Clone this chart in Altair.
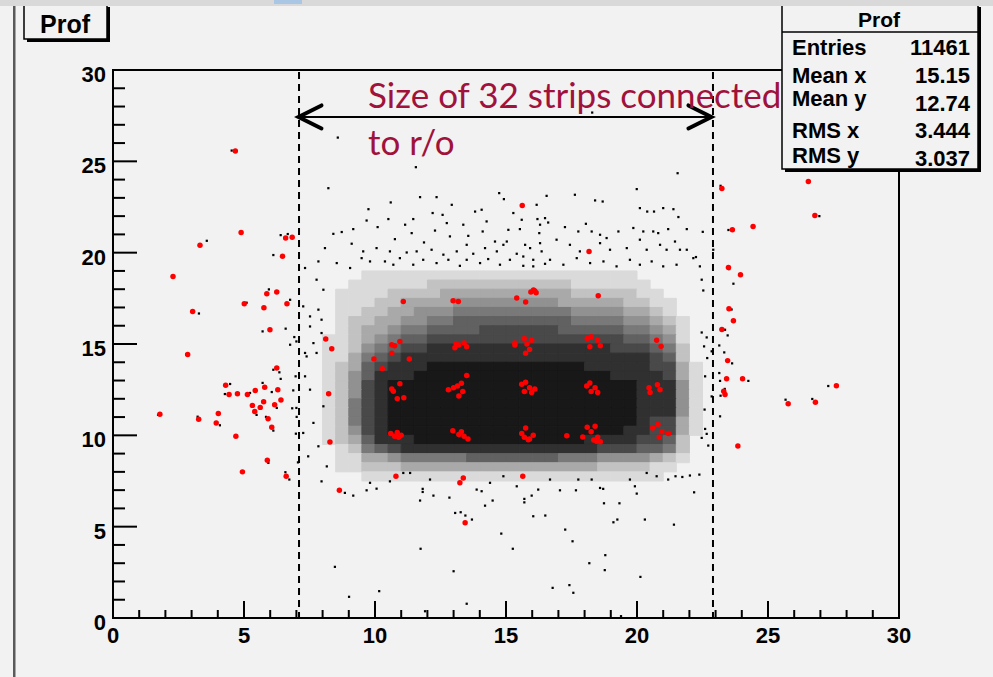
import altair as alt
import pandas as pd

# ---------------------------------------------------------------- layout
W, H = 786, 548            # frame (plot area) size in px
LEFT, TOP = 113, 70        # frame origin on the canvas
BG = "#f2f2f2"
FONT = "Liberation Sans"


def ax(px):
    """canvas x (px) -> plot-area x"""
    return px - LEFT


def ay(py):
    """canvas y (px) -> plot-area y"""
    return py - TOP


# ---------------------------------------------------------------- data
# Dense core of the profile: share of each 0.5 x 0.5 cell covered by entries,
# in tenths ('0' = empty).  Columns start at x = 7.5, 8.0, ... 22.5;
# rows run from y = 18.5 (top) down to y = 7.5.
core_x0 = [7.5 + 0.5 * i for i in range(31)]
core_y0 = [18.5 - 0.5 * j for j in range(23)]
core_rows = [
    "00001 11111 11111 11111 11111 00000 0",  # 18.5
    "00011 11112 22222 22222 11111 10000 0",  # 18.0
    "00111 12222 33333 33333 22222 11000 0",  # 17.5
    "00111 22333 34444 44443 33332 21100 0",  # 17.0
    "00112 23344 45555 55555 44443 32100 0",  # 16.5
    "00122 33445 56666 66666 55554 43210 0",  # 16.0
    "00123 34556 66677 77776 66665 54310 0",  # 15.5
    "01123 45667 77777 77777 77776 65410 0",  # 15.0
    "01124 56778 88888 88888 88877 76520 0",  # 14.5
    "01135 67888 88888 88888 88888 87620 0",  # 14.0
    "01236 78889 99999 99999 98888 87731 0",  # 13.5
    "01246 88899 99999 99999 99988 88731 0",  # 13.0
    "01247 89999 99999 99999 99999 88841 0",  # 12.5
    "01247 89999 99999 99999 99999 88841 0",  # 12.0
    "01257 89999 99999 99999 99999 88841 0",  # 11.5
    "01257 89999 99999 99999 99999 88841 0",  # 11.0
    "01257 89999 99999 99999 99999 87731 0",  # 10.5
    "01247 89999 99999 99999 99998 87731 0",  # 10.0
    "01236 88899 99999 99999 98888 77620 0",  # 9.5
    "00125 67888 88888 88888 88777 66520 0",  # 9.0
    "00113 34555 55666 66665 55444 43210 0",  # 8.5
    "00112 22333 33333 33333 33222 21100 0",  # 8.0
    "00001 11111 11111 11111 11111 11000 0",  # 7.5
]

# Sparse entries around the core
upper_x = [8.22, 9.75, 10.6, 11.72, 12.35, 12.93, 14.74, 14.92, 16.17, 16.55,
           9.68, 10.51, 11.15, 11.46, 12.2, 12.58, 12.74, 13.37, 13.82, 14.07, 14.26, 15.28, 15.6, 16.2,
           8.41, 8.73, 9.17, 10.1, 10.76, 11.4, 11.87, 12.29, 12.86, 13.56, 14.11, 14.58, 15.09, 15.53, 16.27,
           8.09, 9.11, 9.55, 10.06, 10.57, 11.21, 11.59, 12.16, 12.61, 13.12, 13.5, 13.75, 14.2, 14.65, 14.9,
           15.41, 15.92, 16.36,
           7.33, 7.84, 8.54, 9.05, 9.49, 9.81, 10.38, 10.7, 10.95, 11.46, 11.84, 12.35, 12.8, 13.24, 13.5,
           14.01, 14.32, 14.77, 15.15, 15.66, 16.04, 16.49,
           21.55, 19.99, 17.63, 18.4, 18.69, 20.11, 20.39, 20.65, 21.0, 21.39, 21.58, 16.49,
           16.3, 16.61, 17.25, 17.76, 18.05, 18.27, 18.59, 18.84, 19.29, 19.86, 20.24, 20.62, 20.81, 21.19, 21.9,
           15.03, 15.73, 16.3, 16.93, 17.44, 17.82, 18.59, 18.97, 19.61, 20.11, 20.37, 20.88, 21.13, 21.45,
           21.64, 21.9, 22.25,
           15.66, 16.04, 16.68, 17.19, 17.7, 18.21, 18.72, 19.22, 19.73, 20.11, 20.56, 21.0, 21.51, 22.15, 22.4,
           8.58, 11.56, 18.29]
upper_y = [23.53, 22.38, 22.75, 23.04, 23.04, 22.62, 23.26, 22.93, 22.62, 23.11,
           21.76, 21.84, 21.53, 21.84, 22.17, 22.07, 21.62, 21.53, 22.25, 22.35, 21.71, 22.17, 21.8, 21.84,
           21.03, 21.13, 21.29, 21.4, 20.74, 21.07, 20.56, 21.21, 20.89, 20.92, 21.16, 20.61, 21.25, 21.29, 21.07,
           20.25, 20.49, 20.07, 20.25, 20.07, 20.01, 20.07, 20.16, 19.89, 20.07, 20.43, 19.94, 20.25, 20.07, 20.43,
           19.94, 20.25, 20.07,
           19.16, 19.52, 19.43, 19.16, 19.7, 19.52, 19.52, 19.34, 19.7, 19.34, 19.61, 19.43, 19.61, 19.28, 19.61,
           19.43, 19.65, 19.34, 19.61, 19.28, 19.61, 19.39,
           24.35, 23.48, 23.17, 22.86, 22.8, 22.44, 22.25, 22.25, 22.44, 22.38, 21.95, 21.89,
           21.53, 21.65, 21.4, 21.16, 21.58, 21.16, 20.98, 20.8, 21.16, 21.35, 21.16, 21.16, 21.07, 21.29, 21.29,
           20.61, 20.43, 20.52, 20.71, 20.43, 20.07, 20.52, 20.16, 20.25, 20.71, 20.16, 20.43, 20.16, 20.61,
           20.16, 20.16, 19.76,
           19.79, 19.25, 19.61, 19.34, 19.7, 19.43, 19.52, 19.25, 19.61, 19.34, 19.52, 19.25, 19.34, 19.7, 19.25,
           26.3, 24.68, 27.67]

lower_x = [8.47, 9.01, 10.16, 11.74, 11.91, 13.0, 13.5, 14.82, 15.26, 16.04, 16.5, 17.26, 17.54, 16.78,
           17.42, 17.57, 18.18, 18.79, 18.77, 19.39, 20.13, 19.1, 19.25, 20.3, 21.41, 18.74, 19.33, 13.06,
           13.27, 13.45, 13.7, 11.72, 11.82, 11.82, 12.23, 12.84, 14.2, 14.49, 15.7, 15.7, 15.98, 18.71,
           19.99, 22.18, 21.47, 21.73, 22.02, 22.38, 9.17, 8.85, 9.68, 10.06, 9.81, 10.57, 11.08, 11.34,
           12.1, 13.88, 14.07, 14.39, 14.9, 15.41, 16.23, 16.68, 17.06, 17.67, 17.76, 18.27, 18.59, 19.73,
           19.92, 20.37, 20.75, 21.19]
lower_y = [2.8, 1.16, 1.47, 3.79, 0.37, 2.56, 0.78, 4.62, 3.79, 5.57, 5.61, 4.84, 4.2, 1.65,
           1.8, 1.38, 3.0, 3.44, 2.62, 0.1, 2.25, 5.24, 5.39, 5.39, 5.11, 6.28, 6.28, 5.75,
           5.79, 5.61, 5.39, 6.43, 7.07, 6.9, 6.7, 6.59, 6.15, 6.43, 6.52, 6.33, 6.7, 7.07,
           6.81, 6.88, 7.76, 7.72, 7.8, 7.85, 6.7, 6.85, 6.99, 7.08, 7.4, 7.48, 7.94, 7.94,
           7.58, 7.03, 6.94, 7.4, 7.76, 7.21, 7.03, 7.58, 6.99, 6.99, 7.58, 7.58, 7.12, 7.58,
           7.21, 7.94, 7.76, 7.58]

left_x = [4.53, 3.58, 3.28, 6.4, 6.67, 6.12, 5.95, 5.1, 6.76, 5.71, 6.59, 6.92, 6.76, 2.79, 6.12, 6.35,
          6.4, 4.47, 4.27, 5.23, 5.71, 6.06, 6.25, 5.48, 5.84, 1.72, 3.23, 4.08, 6.12, 5.93, 6.58, 6.73,
          6.97, 6.88, 6.84, 7.01, 6.98, 7.06,
          7.52, 7.96, 7.0, 7.39, 7.77, 7.33, 7.52, 8.03, 7.0, 7.65, 7.26, 7.84, 7.45, 8.16, 7.96,
          7.77, 8.03, 7.26, 7.84, 7.52, 7.96, 7.65, 7.33]
left_y = [25.59, 20.65, 16.67, 20.96, 21.02, 19.87, 17.99, 17.26, 17.42, 15.69, 15.84, 15.38, 14.96, 14.43,
          13.59, 13.45, 13.09, 12.81, 12.26, 12.32, 12.87, 12.37, 11.5, 11.12, 11.01, 11.12, 11.02, 10.55,
          10.26, 8.49, 7.98, 7.58, 13.23, 12.46, 11.48, 11.01, 10.09, 8.52,
          16.51, 16.33, 15.14, 14.32, 14.51, 13.23, 12.5, 11.59, 11.5, 10.68, 10.13, 9.4, 8.85, 8.3, 7.48,
          18.52, 17.97, 17.06, 16.88, 15.96, 15.6, 15.05, 14.51]

right_x = [23.19, 26.96, 23.49, 22.51, 23.52, 23.68, 22.47, 22.53, 23.61, 23.36, 23.46, 23.14, 23.33,
           23.63, 23.14, 23.17, 24.25, 27.3, 23.35, 23.19, 25.67, 26.69, 23.17, 22.58, 22.66, 22.72,
           22.68, 22.6, 22.56, 22.66, 22.47, 22.91, 22.85, 22.85, 22.6, 22.47]
right_y = [23.66, 22.0, 21.24, 21.14, 19.1, 18.3, 18.52, 17.93, 16.89, 15.78, 15.47, 14.92, 14.54,
           13.94, 13.41, 12.98, 12.98, 12.7, 12.54, 12.17, 11.95, 11.99, 11.04, 11.41, 10.08, 9.44,
           14.23, 13.23, 14.87, 15.36, 15.63, 20.16, 14.6, 12.13, 10.35, 9.86]

# Highlighted (red) entries
red_x = [4.67, 4.89, 6.59, 6.84, 3.32, 6.47, 2.29, 5.87, 6.25, 5.01, 5.76, 6.64, 3.04, 5.99, 2.85, 6.25,
         4.30, 5.79, 6.29, 4.43, 4.75, 5.13, 5.43, 6.41, 5.75, 5.32, 5.62, 6.17, 5.41, 1.79, 3.27, 4.02,
         3.94, 5.92, 6.06, 4.69, 5.89, 4.94, 6.61,
         26.54, 23.24, 26.79, 23.64, 24.43, 23.49, 23.95, 23.51, 23.68, 23.24, 23.46, 23.42, 24.03, 27.61,
         23.31, 23.36, 25.77, 26.81, 23.85,
         11.08, 8.12, 8.35, 10.64, 10.75, 10.95, 10.64, 9.96, 11.31, 10.28,
         10.95, 10.64, 10.7, 10.85, 11.1, 8.23, 10.6, 10.75, 10.9, 11.0, 10.85, 8.28, 10.8, 8.64,
         13.1, 13.2, 13.4, 13.5, 13.05, 13.5, 12.8, 13.0, 13.15, 13.3, 13.2, 13.35,
         12.97, 13.2, 13.4, 13.55, 13.3, 13.37, 13.24, 13.44, 12.98, 13.18,
         15.34, 15.34, 15.7, 15.8, 15.9, 15.98, 15.75, 18.1, 18.25, 18.5, 18.6, 18.2, 20.75, 20.92,
         15.6, 15.75, 15.9, 15.7, 15.98, 16.1, 18.08, 18.2, 18.4, 18.5, 18.25,
         20.46, 20.5, 20.78, 20.88,
         15.6, 15.75, 15.9, 16.04, 15.7, 17.32, 17.93, 18.1, 18.25, 18.4, 18.5, 18.6, 18.35,
         20.6, 20.8, 20.95, 21.2, 20.85, 15.64, 18.46, 15.85, 15.62, 18.17,
         15.95, 16.05, 16.15, 16.1, 15.41, 15.75, 18.52]
red_y = [25.57, 21.1, 20.8, 20.85, 20.4, 19.8, 18.7, 17.75, 17.85, 17.2, 16.99, 17.2, 16.78, 15.78, 14.43,
         13.69, 12.74, 12.63, 12.5, 12.23, 12.28, 12.23, 12.46, 11.94, 11.84, 11.64, 11.53, 11.68, 11.3,
         11.15, 10.88, 11.2, 10.68, 10.91, 10.44, 9.95, 8.63, 8.0, 7.76,
         23.9, 23.51, 22.03, 21.25, 21.43, 19.19, 18.79, 16.93, 16.27, 15.8, 14.09, 13.1, 13.1, 12.72,
         12.41, 12.23, 11.73, 11.81, 9.42,
         17.33, 15.27, 14.74, 14.96, 14.9, 15.14, 14.5, 14.18, 14.18, 13.65,
         12.83, 12.54, 12.41, 12.01, 12.06, 12.28, 10.1, 9.95, 9.9, 10.0, 10.15, 9.64, 7.76, 6.99,
         15.0, 14.95, 15.05, 14.85, 14.8, 13.27, 12.5, 12.6, 12.7, 12.85, 12.15, 12.4,
         10.25, 10.05, 9.95, 9.8, 10.2, 7.67, 7.4, 5.21, 17.37, 17.33,
         15.05, 14.95, 15.3, 15.0, 14.7, 15.2, 14.5, 15.3, 15.4, 15.2, 14.9, 14.85, 15.2, 14.87,
         12.8, 12.9, 12.6, 12.4, 12.35, 12.54, 12.7, 12.87, 12.6, 12.35, 12.4,
         12.6, 12.35, 12.77, 12.5,
         10.1, 10.4, 9.8, 10.0, 9.9, 9.98, 9.91, 10.44, 10.2, 10.5, 9.9, 9.65, 9.75,
         10.4, 10.6, 10.2, 10.1, 9.9, 7.76, 9.67, 9.76, 22.58, 20.07,
         17.85, 17.95, 17.8, 17.9, 17.52, 17.3, 17.64]

# Read-out window and the span drawn with the arrow
window_x = [7.1, 22.9]
arrow_x = [7.08, 22.84]
arrow_y = 27.43
note_lines = ["Size of 32 strips connected", "to r/o"]

# Statistics box
hist_name = "Prof"
stat_labels = ["Entries", "Mean x", "Mean y", "RMS x", "RMS y"]
stat_values = ["11461", "15.15", "12.74", "3.444", "3.037"]

# Axis ticks and labels
axis_major = [0, 5, 10, 15, 20, 25, 30]
axis_minor = [v for v in range(31) if v % 5]

# ---------------------------------------------------------------- tables
cells = []
for y0, row in zip(core_y0, core_rows):
    for x0, ch in zip(core_x0, row.replace(" ", "")):
        if ch != "0":
            cells.append({"x0": x0, "x1": min(x0 + 0.5, window_x[1]),
                          "y0": y0, "y1": y0 + 0.5, "d": int(ch) / 10})
cells = pd.DataFrame(cells)

black = pd.DataFrame({"x": upper_x + lower_x + left_x + right_x,
                      "y": upper_y + lower_y + left_y + right_y})
red = pd.DataFrame({"x": red_x, "y": red_y})
ticks_major = pd.DataFrame({"t": axis_major, "lab": [str(v) for v in axis_major]})
ticks_minor = pd.DataFrame({"t": axis_minor})
one = pd.DataFrame({"k": [0]})

xs = alt.Scale(domain=[0, 30], nice=False, zero=False)
ys = alt.Scale(domain=[0, 30], nice=False, zero=False)


def X(field):
    return alt.X(field, scale=xs, axis=None)


def Y(field):
    return alt.Y(field, scale=ys, axis=None)


shade = alt.Scale(domain=[0, 1], range=[BG, "#000000"], interpolate="rgb")

# ---------------------------------------------------------------- layers
core = alt.Chart(cells).mark_rect(strokeWidth=1).encode(
    x=X("x0:Q"), x2="x1:Q", y=Y("y0:Q"), y2="y1:Q",
    fill=alt.Fill("d:Q", scale=shade, legend=None),
    stroke=alt.Stroke("d:Q", scale=shade, legend=None),
)

entries = alt.Chart(black).mark_square(size=5, color="black", opacity=1).encode(
    x=X("x:Q"), y=Y("y:Q"))

window = alt.Chart(pd.DataFrame({"x": window_x})).mark_rule(
    color="black", strokeWidth=2, strokeDash=[7, 5]).encode(
    x=X("x:Q"), y=alt.value(2), y2=alt.value(H))

arrow_line = alt.Chart(pd.DataFrame({"x": [arrow_x[0]], "x2": [arrow_x[1]], "y": [arrow_y]})).mark_rule(
    color="black", strokeWidth=2).encode(x=X("x:Q"), x2="x2:Q", y=Y("y:Q"))

head_l = alt.Chart(pd.DataFrame({"x": [arrow_x[0]], "y": [arrow_y]})).mark_point(
    shape="M 1 -0.5 L 0 0 L 1 0.5", size=2116, filled=False, color="black", opacity=1,
    strokeWidth=4, strokeCap="round").encode(x=X("x:Q"), y=Y("y:Q"))
head_r = alt.Chart(pd.DataFrame({"x": [arrow_x[1]], "y": [arrow_y]})).mark_point(
    shape="M -1 -0.5 L 0 0 L -1 0.5", size=2116, filled=False, color="black", opacity=1,
    strokeWidth=4, strokeCap="round").encode(x=X("x:Q"), y=Y("y:Q"))

# inward ticks along the bottom and left edges of the frame
tick_kw = dict(color="black", strokeWidth=2)
xt_major = alt.Chart(ticks_major).mark_rule(**tick_kw).encode(
    x=X("t:Q"), y=alt.value(H), y2=alt.value(H - 17))
xt_minor = alt.Chart(ticks_minor).mark_rule(**tick_kw).encode(
    x=X("t:Q"), y=alt.value(H), y2=alt.value(H - 8))
yt_major = alt.Chart(ticks_major).mark_rule(**tick_kw).encode(
    y=Y("t:Q"), x=alt.value(0), x2=alt.value(24))
yt_minor = alt.Chart(ticks_minor).mark_rule(**tick_kw).encode(
    y=Y("t:Q"), x=alt.value(0), x2=alt.value(12))

lab_kw = dict(font=FONT, fontWeight="bold", fontSize=22, color="black", baseline="alphabetic")
x_labels = alt.Chart(ticks_major).mark_text(align="center", **lab_kw).encode(
    x=X("t:Q"), y=alt.value(ay(643)), text="lab:N")
y_labels = alt.Chart(ticks_major).mark_text(align="right", dy=12, **lab_kw).encode(
    y=Y("t:Q"), x=alt.value(ax(106)), text="lab:N")

hits = alt.Chart(red).mark_circle(size=30, color="#ff0000", opacity=1).encode(
    x=X("x:Q"), y=Y("y:Q"))

note = [alt.Chart(one).mark_text(font="Lato", fontSize=35, color="#a0123c", align="left",
                                  baseline="alphabetic").encode(
    x=alt.value(ax(368)), y=alt.value(ay(yb)), text=alt.value(t))
    for t, yb in zip(note_lines, [108, 155])]


def box(x1, y1, x2, y2, shadow=3):
    """framed box with the drop shadow used by the canvas widgets"""
    s = alt.Chart(one).mark_rect(color="black").encode(
        x=alt.value(ax(x1 + shadow)), x2=alt.value(ax(x2 + shadow)),
        y=alt.value(ay(y1 + shadow)), y2=alt.value(ay(y2 + shadow)))
    b = alt.Chart(one).mark_rect(fill=BG, stroke="black", strokeWidth=1.5).encode(
        x=alt.value(ax(x1)), x2=alt.value(ax(x2)), y=alt.value(ay(y1)), y2=alt.value(ay(y2)))
    return [s, b]


def label(text, x, y, size=22, align="left"):
    return alt.Chart(one).mark_text(font=FONT, fontWeight="bold", fontSize=size, color="black",
                                    align=align, baseline="alphabetic").encode(
        x=alt.value(ax(x)), y=alt.value(ay(y)), text=alt.value(text))


title_box = box(24, 4, 107, 39) + [label(hist_name, 65, 33, size=25, align="center")]

stats = box(782, 4, 978, 169)
stats.append(alt.Chart(one).mark_rule(color="black", strokeWidth=1.5).encode(
    x=alt.value(ax(782)), x2=alt.value(ax(978)), y=alt.value(ay(32))))
stats.append(label(hist_name, 879, 27, size=21, align="center"))
label_base = [55, 82.5, 105.5, 137.5, 162.5]
value_base = [55, 82.5, 110.5, 137.5, 165.5]
for lab, val, yl, yv in zip(stat_labels, stat_values, label_base, value_base):
    stats.append(label(lab, 792, yl))
    stats.append(label(val, 970, yv, align="right"))

# canvas window border
frame_deco = [
    alt.Chart(one).mark_rect(color="#d9d9d9").encode(
        x=alt.value(ax(0)), x2=alt.value(ax(993)), y=alt.value(ay(0)), y2=alt.value(ay(6))),
    alt.Chart(one).mark_rect(color="#a9c6e4").encode(
        x=alt.value(ax(274)), x2=alt.value(ax(302)), y=alt.value(ay(0)), y2=alt.value(ay(4))),
    alt.Chart(one).mark_rect(color="#5a5a5a").encode(
        x=alt.value(ax(13)), x2=alt.value(ax(15.5)), y=alt.value(ay(6)), y2=alt.value(ay(677))),
]

chart = alt.layer(
    core, entries, window, arrow_line, head_l, head_r,
    xt_major, xt_minor, yt_major, yt_minor, x_labels, y_labels, hits,
    *note, *title_box, *stats, *frame_deco,
).properties(
    width=W, height=H,
    background=BG,
    padding={"left": LEFT, "top": TOP, "right": 993 - LEFT - W, "bottom": 677 - TOP - H},
    autosize=alt.AutoSizeParams(type="none"),
).configure_view(stroke="black", strokeWidth=2, fill=BG)

chart.save("out.html", embed_options={"renderer": "svg", "actions": False})
